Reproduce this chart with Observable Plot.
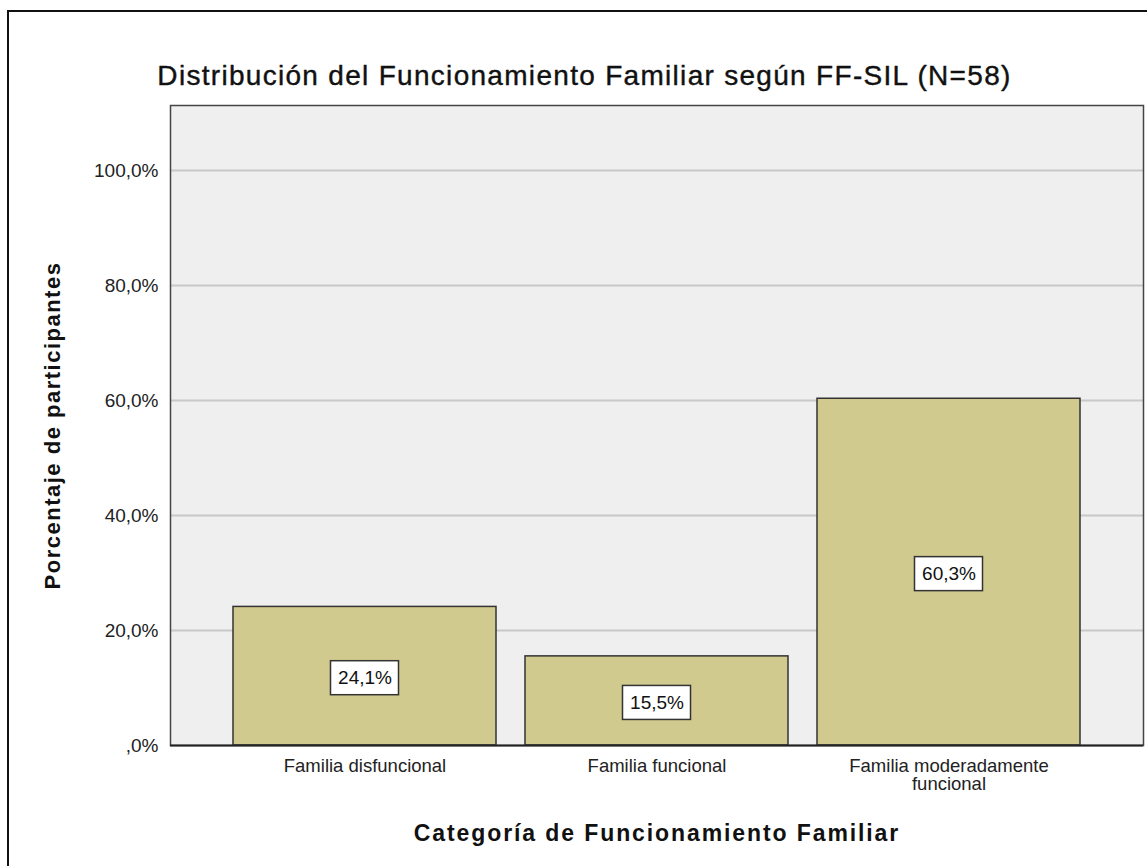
<!DOCTYPE html>
<html>
<head>
<meta charset="utf-8">
<script src="https://cdn.jsdelivr.net/npm/d3@7"></script>
<script src="https://cdn.jsdelivr.net/npm/@observablehq/plot@0.6"></script>
<style>
  html, body { margin: 0; padding: 0; background: #fff; }
  #wrap { position: relative; width: 1147px; height: 866px; overflow: hidden; background: #fff; }
  #border { position: absolute; left: 7px; top: 10px; width: 1200px; height: 900px; border: 2px solid #111; box-sizing: border-box; }
  #chart { position: absolute; left: 0; top: 0; }
</style>
</head>
<body>
<div id="wrap"><div id="border"></div><div id="chart"></div></div>
<script>
const titleText = "Distribución del Funcionamiento Familiar según FF-SIL (N=58)";
const xLabel = "Categoría de Funcionamiento Familiar";
const yLabel = "Porcentaje de participantes";
const categories = ["Familia disfuncional", "Familia funcional", "Familia moderadamente funcional"];
const xTickLabels = ["Familia disfuncional", "Familia funcional", "Familia moderadamente\nfuncional"];
const percents = [24.1, 15.5, 60.3];
const valueLabels = ["24,1%", "15,5%", "60,3%"];
const yTicks = [0, 20, 40, 60, 80, 100];
const yTickLabels = [",0%", "20,0%", "40,0%", "60,0%", "80,0%", "100,0%"];

const data = categories.map((c, i) => ({cat: c, pct: percents[i], mid: percents[i] / 2, label: valueLabels[i]}));
const font = "'Liberation Sans', Arial, sans-serif";

const chart = Plot.plot({
  width: 1147,
  height: 866,
  marginLeft: 170,
  marginRight: 4,
  marginTop: 105,
  marginBottom: 121,
  style: {fontFamily: font, background: "transparent", color: "#111"},
  x: {domain: categories, paddingInner: 0.0993, paddingOuter: 0.2157, axis: null},
  y: {domain: [0, 111.3], axis: null},
  marks: [
    Plot.frame({fill: "#efefef", stroke: null}),
    Plot.ruleY(yTicks.filter(d => d > 0), {stroke: "#c8c8c8", strokeWidth: 2}),
    Plot.barY(data, {x: "cat", y: "pct", fill: "#d0ca8e", stroke: "#333", strokeWidth: 1.5}),
    Plot.barY(data, {x: "cat", y1: "mid", y2: "mid", fill: "#fff", stroke: "#333", strokeWidth: 1.5,
      insetLeft: 97.5, insetRight: 97.5, insetTop: -15, insetBottom: -19}),
    Plot.text(data, {x: "cat", y: "mid", text: "label", fontSize: 19, dy: 2, fill: "#111"}),
    Plot.frame({stroke: "#444", strokeWidth: 1.5}),
    Plot.ruleY([0], {stroke: "#222", strokeWidth: 2}),
    Plot.axisY({ticks: yTicks, tickFormat: d => yTickLabels[yTicks.indexOf(d)], tickSize: 0, tickPadding: 12,
      fontSize: 19, label: null, fill: "#222"}),
    Plot.axisX({tickFormat: d => xTickLabels[categories.indexOf(d)], tickSize: 0, tickPadding: 13,
      fontSize: 18.5, lineHeight: 1.0, label: null, fill: "#222"}),
    Plot.text([yLabel], {text: d => d, frameAnchor: "left", textAnchor: "middle", lineAnchor: "middle",
      dx: -118, rotate: -90, fontSize: 22, fontWeight: "bold", fill: "#111"}),
    Plot.text([xLabel], {text: d => d, frameAnchor: "bottom", textAnchor: "middle", lineAnchor: "middle",
      dy: 88, fontSize: 23, fontWeight: "bold", fill: "#111"}),
    Plot.text([titleText], {text: d => d, frameAnchor: "top", textAnchor: "middle", lineAnchor: "middle",
      dx: -72.5, dy: -29.5, fontSize: 28, fill: "#111", stroke: "#111", strokeWidth: 0.4})
  ]
});
document.getElementById("chart").appendChild(chart);

const spacing = new Map([[titleText, "1.3px"], [xLabel, "1.9px"], [yLabel, "1.5px"]]);
d3.select(chart).selectAll("text").each(function() {
  const s = spacing.get(this.textContent);
  if (s) this.style.letterSpacing = s;
});
</script>
</body>
</html>
